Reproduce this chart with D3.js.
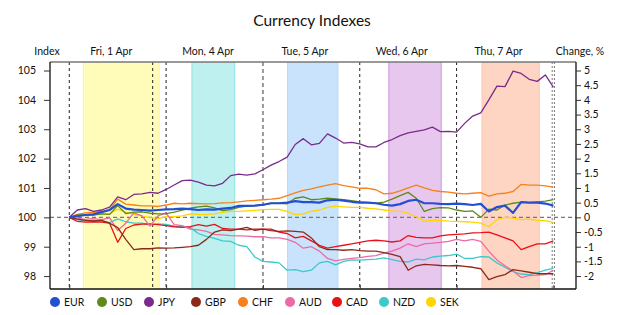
<!DOCTYPE html>
<html><head><meta charset="utf-8">
<script src="https://cdn.jsdelivr.net/npm/d3@7"></script>
<style>body{margin:0;background:#fff}svg{display:block}text{font-family:Lato,"Open Sans",sans-serif;fill:#111}</style>
</head><body><svg id="c" width="625" height="315"></svg>
<script>
// hours since Fri 1 Apr 00:00 (2-hour steps)
const hours = d3.range(0, 121, 2);
const currencies = ["EUR","USD","JPY","GBP","CHF","AUD","CAD","NZD","SEK"];
const colors = ["#2350d0","#5e8a1c","#7a2a8c","#8b2a1a","#f7801a","#ee6aa7","#e8111a","#3cc9c9","#ffd500"];
const EUR = [100.0,100.04,100.08,100.1,100.18,100.25,100.45,100.3,100.26,100.25,
 100.23,100.25,100.27,100.28,100.3,100.28,100.25,100.27,100.26,100.3,
 100.32,100.39,100.39,100.4,100.43,100.48,100.48,100.5,100.55,100.52,
 100.52,100.5,100.58,100.6,100.57,100.53,100.5,100.5,100.48,100.43,
 100.4,100.45,100.56,100.6,100.48,100.48,100.46,100.45,100.47,100.45,
 100.42,100.46,100.2,100.35,100.4,100.15,100.52,100.5,100.5,100.47,100.4];
const USD = [100.0,100.08,100.08,100.08,100.12,100.1,100.4,100.13,100.18,100.19,
 100.14,100.12,100.13,100.18,100.25,100.31,100.36,100.38,100.32,100.23,
 100.26,100.34,100.38,100.4,100.42,100.48,100.48,100.46,100.65,100.7,
 100.6,100.62,100.65,100.63,100.6,100.57,100.53,100.5,100.48,100.52,
 100.62,100.74,100.85,100.65,100.2,100.3,100.33,100.32,100.25,100.2,
 100.22,100.0,100.28,100.25,100.42,100.48,100.52,100.5,100.53,100.55,100.6];
const JPY = [100.0,100.25,100.3,100.2,100.25,100.35,100.7,100.6,100.78,100.8,
 100.85,100.82,100.95,101.1,101.25,101.27,101.2,101.1,101.07,101.16,
 101.42,101.47,101.44,101.48,101.62,101.78,101.9,102.05,102.48,102.68,
 102.47,102.52,102.84,102.7,102.53,102.55,102.5,102.4,102.4,102.55,
 102.65,102.78,102.88,102.93,102.98,103.07,102.92,102.93,102.9,103.2,
 103.45,103.56,104.0,104.47,104.45,104.98,104.9,104.7,104.63,104.85,104.43];
const GBP = [100.0,99.94,99.9,99.88,99.9,99.8,99.65,99.25,98.9,98.93,
 98.93,98.96,98.95,98.96,98.98,99.0,99.05,99.25,99.5,99.57,
 99.55,99.6,99.66,99.56,99.6,99.55,99.52,99.54,99.52,99.5,
 99.3,99.0,98.9,98.9,98.88,98.9,98.87,98.85,98.85,98.8,
 98.74,98.66,98.2,98.35,98.4,98.38,98.36,98.35,98.36,98.33,
 98.3,98.25,97.88,97.98,98.05,98.22,98.18,98.13,98.08,98.08,98.08];
const CHF = [100.0,100.1,100.15,100.17,100.2,100.25,100.62,100.45,100.42,100.39,
 100.39,100.37,100.42,100.48,100.46,100.48,100.47,100.46,100.47,100.49,
 100.5,100.53,100.56,100.58,100.6,100.62,100.65,100.74,100.83,100.92,
 100.97,101.04,101.1,101.15,101.08,101.04,100.99,100.99,100.94,100.8,
 100.82,100.9,101.0,101.1,101.0,100.92,100.88,100.86,100.82,100.8,
 100.82,100.84,100.72,100.8,100.82,100.88,101.12,101.1,101.1,101.07,101.03];
const AUD = [100.0,99.97,99.93,99.96,99.92,99.98,99.55,99.8,100.15,100.05,
 99.7,100.05,100.15,99.75,99.72,99.6,99.57,99.52,99.42,99.4,
 99.38,99.37,99.36,99.34,99.34,99.3,99.3,99.25,99.15,98.95,
 99.0,98.85,98.6,98.52,98.57,98.6,98.63,98.67,98.7,98.78,
 98.85,98.95,99.1,99.0,99.1,99.12,99.15,99.18,99.25,99.2,
 99.25,99.18,98.85,98.55,98.35,98.18,97.95,98.02,98.03,98.05,98.2];
const CAD = [100.0,99.86,99.84,99.85,99.84,99.8,99.15,99.62,99.74,99.77,
 99.78,99.75,99.72,99.68,99.66,99.68,99.75,99.7,99.76,99.62,
 99.6,99.6,99.57,99.6,99.6,99.6,99.5,99.45,99.3,99.35,
 99.2,99.05,98.95,99.0,99.05,99.1,99.15,99.2,99.22,99.2,
 99.16,99.2,99.38,99.32,99.3,99.3,99.37,99.4,99.42,99.44,
 99.47,99.48,99.5,99.4,99.3,99.2,98.9,99.0,99.1,99.1,99.2];
const NZD = [100.0,99.92,99.88,99.9,99.88,99.82,99.95,99.85,99.8,99.8,
 99.74,99.78,99.76,99.7,99.68,99.65,99.45,99.35,99.28,99.2,
 99.18,99.05,99.0,98.65,98.5,98.48,98.45,98.2,98.22,98.15,
 98.2,98.45,98.5,98.38,98.5,98.55,98.54,98.56,98.58,98.62,
 98.56,98.5,98.48,98.58,98.55,98.65,98.68,98.7,98.75,98.6,
 98.6,98.66,98.65,98.45,98.3,98.15,98.07,98.05,98.12,98.2,98.26];
const SEK = [100.0,100.05,100.1,100.12,100.13,100.12,100.28,100.18,100.1,100.04,
 99.99,99.96,100.02,100.02,100.05,100.12,100.1,100.09,100.12,100.17,
 100.2,100.2,100.22,100.24,100.26,100.27,100.27,100.2,100.09,100.12,
 100.2,100.25,100.34,100.38,100.36,100.34,100.34,100.31,100.29,100.25,
 100.22,100.2,100.14,100.02,99.87,99.9,99.9,99.87,99.86,99.85,
 99.84,99.8,99.68,99.92,100.0,99.97,99.92,99.94,99.9,99.89,99.83];
const seriesValues = [EUR,USD,JPY,GBP,CHF,AUD,CAD,NZD,SEK];
const dayLabels = ["Fri, 1 Apr","Mon, 4 Apr","Tue, 5 Apr","Wed, 6 Apr","Thu, 7 Apr"];
const dayStarts = [0,24,48,72,96];
const bandStarts = [3.5,30.4,54.1,79.2,102.3];
const bandEnds = [22.3,41,66.6,92.2,116.5];
const bandColors = ["#fffcba","#bdf0ee","#c8e3fb","#e7c7ed","#fed5c3"];
const bandEdges = ["#fff3a0","#8fe3e3","#b7d9f7","#cc9be0","#fdc6ad"];
const blackDashes = [0,20.67,24,72,96];
const grayDashes = [48];
const endDashes = [119.7,120.25];
const leftTicks = [98,99,100,101,102,103,104,105];
const rightTicks = [-2,-1.5,-1,-0.5,0,0.5,1,1.5,2,2.5,3,3.5,4,4.5,5];

const svg = d3.select("#c");
const L=50,R=576,T=62,B=289;
const x = d3.scaleLinear().domain([-4.78,125.6]).range([L,R]);
const y = d3.scaleLinear().domain([97.56,105.29]).range([B,T]);
const y2 = d3.scaleLinear().domain([-2.44,5.29]).range([B,T]);

svg.append("text").attr("x",312).attr("y",26).attr("text-anchor","middle").style("font-size","15.5px").text("Currency Indexes");

// bands
bandStarts.forEach((s,i)=>{
  svg.append("rect").attr("x",x(s)).attr("y",T).attr("width",x(bandEnds[i])-x(s)).attr("height",B-T)
    .attr("fill",bandColors[i]);
  [s,bandEnds[i]].forEach(v=>svg.append("line").attr("x1",x(v)).attr("x2",x(v)).attr("y1",T).attr("y2",B)
    .attr("stroke",bandEdges[i]).attr("stroke-width",1));
});
// dashed verticals
blackDashes.forEach(h=>svg.append("line").attr("x1",x(h)).attr("x2",x(h)).attr("y1",T).attr("y2",B)
  .attr("stroke","#222").attr("stroke-width",1).attr("stroke-dasharray","3,3"));
grayDashes.forEach(h=>svg.append("line").attr("x1",x(h)).attr("x2",x(h)).attr("y1",T).attr("y2",B)
  .attr("stroke","#999").attr("stroke-width",2).attr("stroke-dasharray","4,3"));
endDashes.forEach(h=>svg.append("line").attr("x1",x(h)).attr("x2",x(h)).attr("y1",T).attr("y2",B)
  .attr("stroke","#777").attr("stroke-width",1).attr("stroke-dasharray","2,2"));
// 100 line
svg.append("line").attr("x1",L).attr("x2",R).attr("y1",y(100)).attr("y2",y(100))
  .attr("stroke","#777").attr("stroke-width",1.2).attr("stroke-dasharray","4,3");

// series
const line = d3.line().x((d,i)=>x(hours[i])).y(d=>y(d));
const order = [8,7,6,5,4,3,2,1,0];
order.forEach(k=>{
  svg.append("path").datum(seriesValues[k]).attr("d",line).attr("fill","none")
    .attr("stroke",colors[k]).attr("stroke-width",k===0?2.2:1.3).attr("stroke-linejoin","round");
});

// frame
svg.append("line").attr("x1",L).attr("x2",R).attr("y1",T).attr("y2",T).attr("stroke","#777").attr("stroke-width",1.5);
const la = svg.append("g").attr("transform",`translate(${L},0)`)
  .call(d3.axisLeft(y).tickValues(leftTicks).tickSize(6).tickPadding(8).tickFormat(d=>String(d)));
const ra = svg.append("g").attr("transform",`translate(${R},0)`)
  .call(d3.axisRight(y2).tickValues(rightTicks).tickSize(5).tickPadding(3).tickFormat(d=>String(d)));
const ba = svg.append("g").attr("transform",`translate(0,${B})`)
  .call(d3.axisBottom(x).tickValues([0,24,48,72,96,120]).tickSize(-4).tickFormat(""));
[la,ra,ba].forEach(g=>{
  g.select(".domain").attr("stroke","#111").attr("stroke-width",1.3);
  g.selectAll(".tick line").attr("stroke","#333");
  g.selectAll("text").style("font-size","10.5px").attr("fill","#111").style("font-family","Lato,sans-serif");
});
la.select(".domain").attr("d",`M0,${T}V${B}`);
ra.select(".domain").attr("d",`M0,${T}V${B}`);
ba.select(".domain").attr("d",`M${L},0H${R}`);

// header labels
svg.append("text").attr("x",47).attr("y",55).attr("text-anchor","middle").style("font-size","10.5px").text("Index");
dayLabels.forEach((t,i)=>svg.append("text").attr("x",x(dayStarts[i]+10.4)).attr("y",55)
  .attr("text-anchor","middle").style("font-size","10.5px").text(t));
svg.append("text").attr("x",580).attr("y",55).attr("text-anchor","middle").style("font-size","10.5px").text("Change, %");

// legend
const lg = svg.append("g");
currencies.forEach((c,i)=>{
  const cx = 55 + i*47;
  lg.append("circle").attr("cx",cx).attr("cy",302).attr("r",5).attr("fill",colors[i]);
  lg.append("text").attr("x",cx+9).attr("y",302).attr("dy","0.35em").style("font-size","10.5px").text(c);
});
</script></body></html>
